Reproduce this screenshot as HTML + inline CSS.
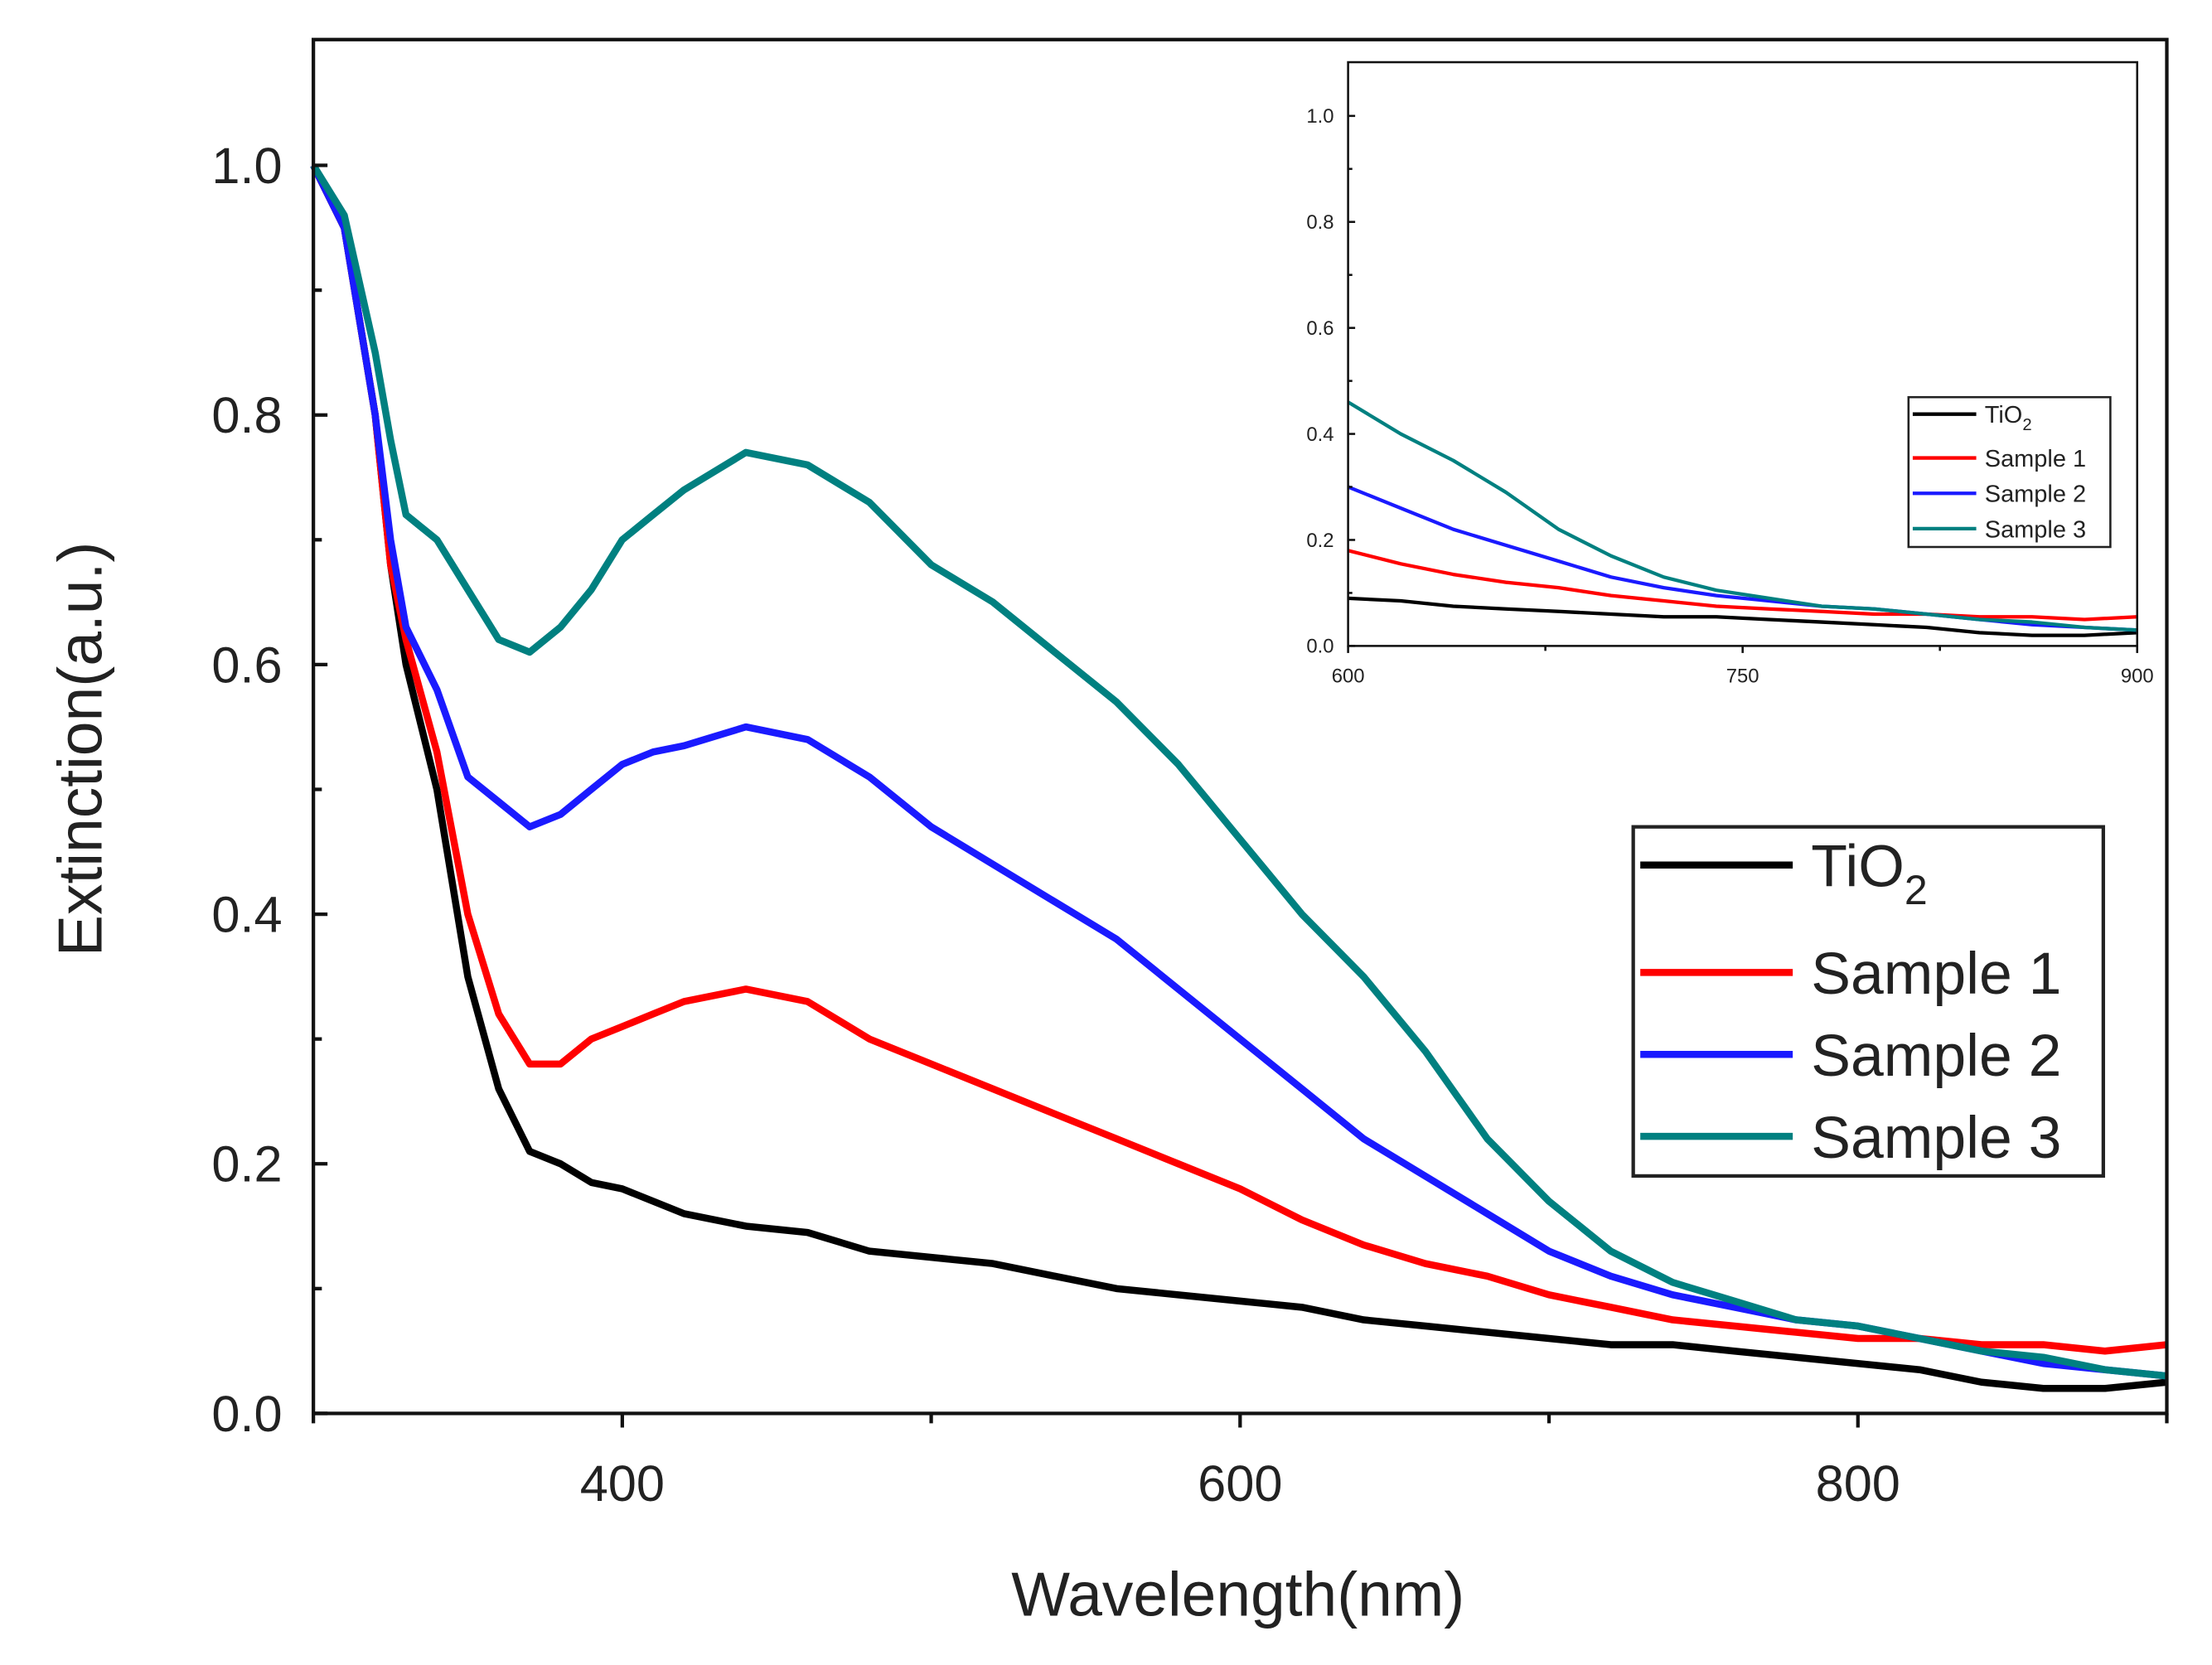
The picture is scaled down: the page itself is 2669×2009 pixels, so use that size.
<!DOCTYPE html>
<html><head><meta charset="utf-8"><style>
html,body{margin:0;padding:0;background:#fff}
svg{display:block}
text{font-family:"Liberation Sans",sans-serif;fill:#222}
</style></head><body>
<svg id="chart" width="2669" height="2009" viewBox="0 0 1567 1178" preserveAspectRatio="none" xmlns="http://www.w3.org/2000/svg"></svg>
<script>
const wavelengths=[300,310,320,325,330,340,350,360,370,380,390,400,410,420,440,460,480,500,520,540,560,580,600,620,640,660,680,700,720,740,760,780,800,820,840,860,880,900];
const tio2=[1.0,0.95,0.80,0.68,0.60,0.50,0.35,0.26,0.21,0.20,0.185,0.18,0.17,0.16,0.15,0.145,0.13,0.125,0.12,0.11,0.10,0.095,0.09,0.085,0.075,0.07,0.065,0.06,0.055,0.055,0.05,0.045,0.04,0.035,0.025,0.02,0.02,0.025];
const sample1=[1.0,0.95,0.80,0.68,0.62,0.53,0.40,0.32,0.28,0.28,0.30,0.31,0.32,0.33,0.34,0.33,0.30,0.28,0.26,0.24,0.22,0.20,0.18,0.155,0.135,0.12,0.11,0.095,0.085,0.075,0.07,0.065,0.06,0.06,0.055,0.055,0.05,0.055];
const sample2=[1.0,0.95,0.80,0.70,0.63,0.58,0.51,0.49,0.47,0.48,0.50,0.52,0.53,0.535,0.55,0.54,0.51,0.47,0.44,0.41,0.38,0.34,0.30,0.26,0.22,0.19,0.16,0.13,0.11,0.095,0.085,0.075,0.07,0.06,0.05,0.04,0.035,0.03];
const sample3=[1.0,0.96,0.85,0.78,0.72,0.70,0.66,0.62,0.61,0.63,0.66,0.70,0.72,0.74,0.77,0.76,0.73,0.68,0.65,0.61,0.57,0.52,0.46,0.40,0.35,0.29,0.22,0.17,0.13,0.105,0.09,0.075,0.07,0.06,0.05,0.045,0.035,0.03];
const seriesNames=["TiO2","Sample 1","Sample 2","Sample 3"];
const mainXTicks=[400,600,800];
const mainYTicks=[0.0,0.2,0.4,0.6,0.8,1.0];
const insetXTicks=[600,750,900];
const insetYTicks=[0.0,0.2,0.4,0.6,0.8,1.0];

const NS="http://www.w3.org/2000/svg";
const svg=document.getElementById('chart');
const colors=["#000000","#ff0000","#1a1aff","#008080"];
const allSeries=[tio2,sample1,sample2,sample3];
function el(tag,attrs,parent){const e=document.createElementNS(NS,tag);for(const k in attrs)e.setAttribute(k,attrs[k]);(parent||svg).appendChild(e);return e;}

function drawPlot(cfg){
  const g=el('g',{});
  
  
  const sx=v=>cfg.x0+(v-cfg.xmin)/(cfg.xmax-cfg.xmin)*(cfg.x1-cfg.x0);
  const sy=v=>cfg.yb+(v-0)/(1.0-0)*(cfg.y1v-cfg.yb);
  allSeries.forEach((s,i)=>{
    let d='';
    wavelengths.forEach((w,j)=>{ if(w>=cfg.xmin&&w<=cfg.xmax){d+=(d?'L':'M')+sx(w).toFixed(1)+','+sy(s[j]).toFixed(1);} });
    const p=el('path',{d:d,fill:'none',stroke:colors[i],'stroke-width':cfg.lw,'stroke-linejoin':'round'},g);
    
    
  });
  const f=el('rect',{x:cfg.x0,y:cfg.yt,width:cfg.x1-cfg.x0,height:cfg.yb-cfg.yt,fill:'none',stroke:'#111','stroke-width':cfg.fw},g);
  
  
  cfg.yTicks.forEach(v=>{
    el('line',{x1:cfg.x0,x2:cfg.x0+cfg.tl,y1:sy(v),y2:sy(v),stroke:'#111','stroke-width':cfg.fw},g);
    const mid=v+0.1; if(mid<1.09) el('line',{x1:cfg.x0,x2:cfg.x0+cfg.tl*0.6,y1:sy(mid),y2:sy(mid),stroke:'#111','stroke-width':cfg.fw},g);
    const t=el('text',{x:cfg.x0-cfg.lpad,y:sy(v)+cfg.fs*0.35,'font-size':cfg.fs,'text-anchor':'end'},g);
    t.textContent=v.toFixed(1);
    
    
  });
  const step=cfg.xTicks[1]-cfg.xTicks[0];
  for(let v=cfg.xmin;v<=cfg.xmax;v+=step/2){
    el('line',{x1:sx(v),x2:sx(v),y1:cfg.yb,y2:cfg.yb+cfg.tl*(cfg.xTicks.includes(v)?1:0.7),stroke:'#111','stroke-width':cfg.fw},g);
  }
  cfg.xTicks.forEach(v=>{
    const t=el('text',{x:sx(v),y:cfg.yb+cfg.xlpad,'font-size':cfg.fs,'text-anchor':'middle'},g);
    t.textContent=String(v);
    
    
  });
  const L=cfg.leg;
  const lg=el('g',{},g);
  
  
  el('rect',{x:L.x,y:L.y,width:L.w,height:L.h,fill:'#fff',stroke:'#222','stroke-width':cfg.fw},lg);
  seriesNames.forEach((n,i)=>{
    const y=L.ys[i];
    const ln=el('line',{x1:L.x+L.lx0,x2:L.x+L.lx1,y1:y,y2:y,stroke:colors[i],'stroke-width':cfg.lw},lg);
    
    
    const t=el('text',{x:L.x+L.tx,y:y+L.fs*0.36,'font-size':L.fs},lg);
    
    
    if(i===0){t.textContent='TiO';const sub=el('tspan',{dy:L.fs*0.3,'font-size':L.fs*0.7},t);sub.textContent='2';}
    else t.textContent=n;
  });
}

drawPlot({name:'main-plot',x0:222,x1:1535,yt:28,yb:1000,y1v:117,xmin:300,xmax:900,lw:5,fw:2.5,tl:10,fs:36,lpad:22,xlpad:62,
  yTicks:mainYTicks,xTicks:mainXTicks,
  leg:{x:1157,y:585,w:333,h:247,lx0:5,lx1:113,tx:126,fs:42,ys:[612,688,746,804]}});
drawPlot({name:'inset-plot',x0:955,x1:1514,yt:44,yb:457,y1v:82,xmin:600,xmax:900,lw:2.5,fw:1.5,tl:5,fs:14,lpad:10,xlpad:26,
  yTicks:insetYTicks,xTicks:insetXTicks,
  leg:{x:1352,y:281,w:143,h:106,lx0:3,lx1:48,tx:54,fs:17,ys:[293,324,349,374]}});

const yt=el('text',{x:0,y:0,'font-size':44,'text-anchor':'middle',transform:'translate(72,530) rotate(-90)'});
yt.textContent='Extinction(a.u.)';


const xt=el('text',{x:877,y:1143,'font-size':44,'text-anchor':'middle'});
xt.textContent='Wavelength(nm)';


</script>
</body></html>
